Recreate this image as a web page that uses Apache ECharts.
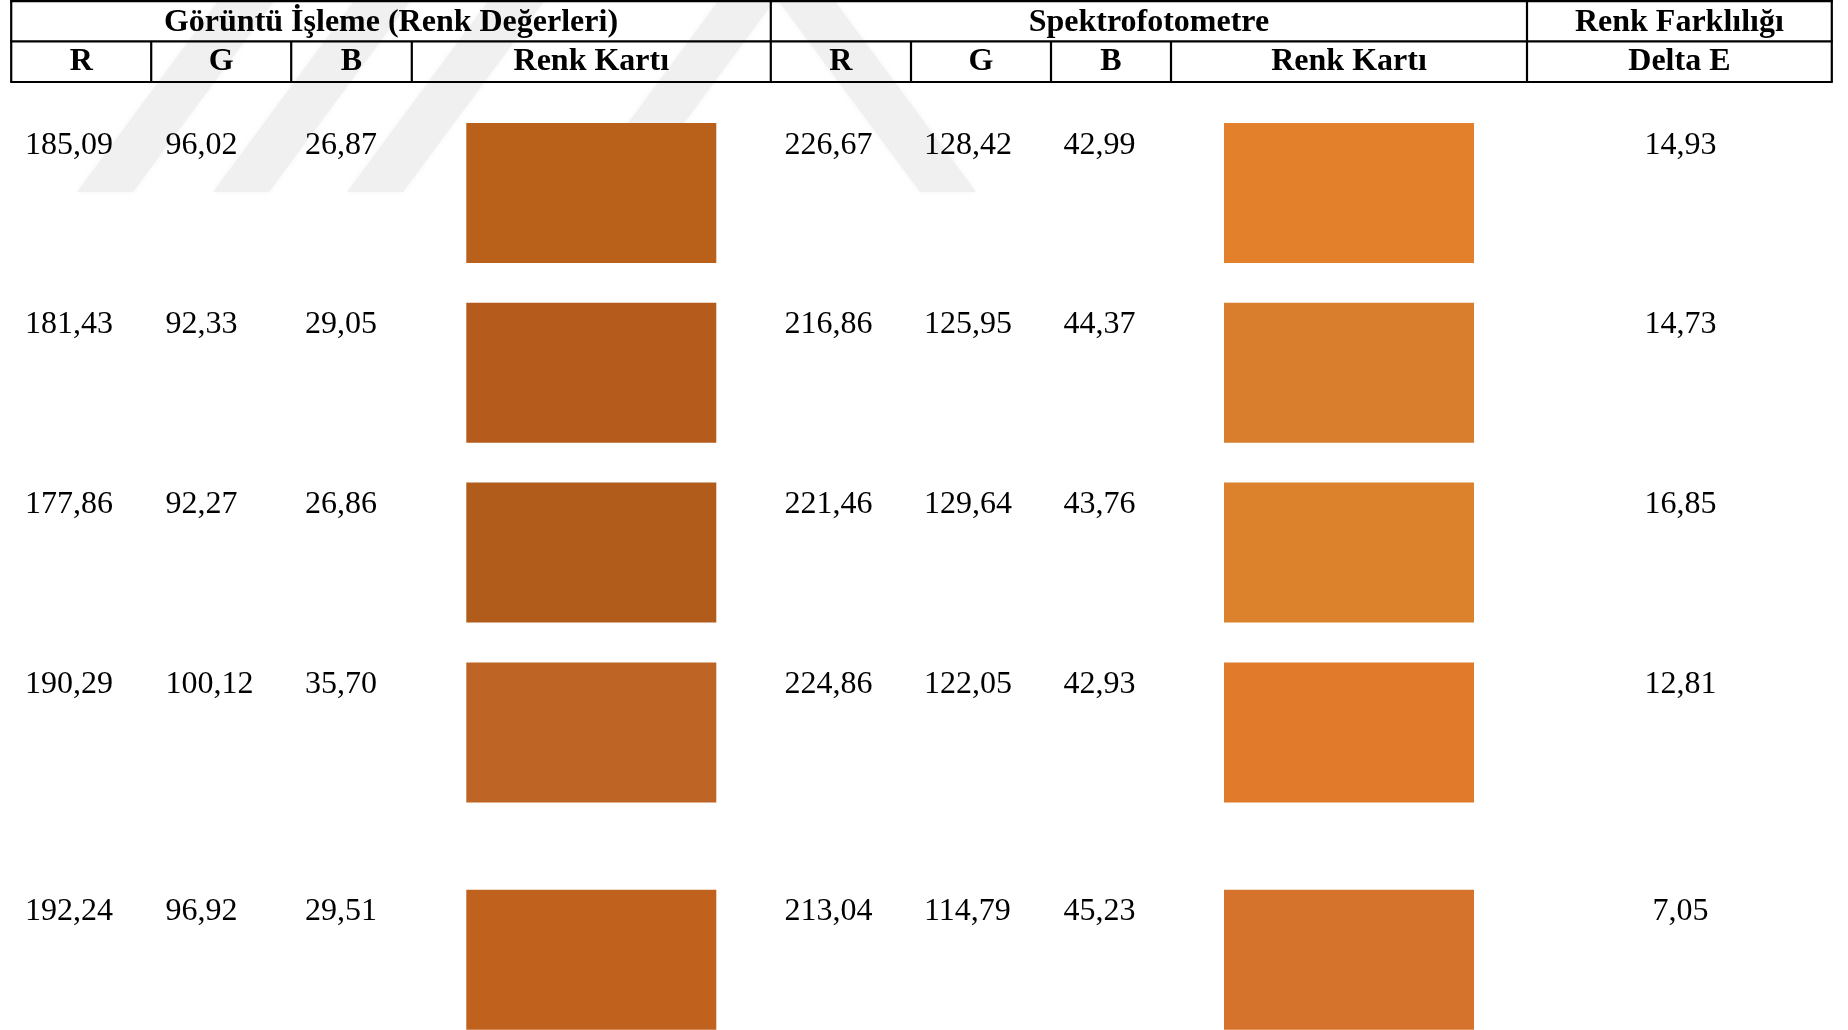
<!DOCTYPE html>
<html>
<head>
<meta charset="utf-8">
<script src="https://cdn.jsdelivr.net/npm/echarts@6/dist/echarts.min.js"></script>
<style>
html,body{margin:0;padding:0;background:#fff;}
#chart{width:1848px;height:1030px;}
</style>
</head>
<body>
<div id="chart"></div>
<script>
// ---------- DATA ----------
const rowLabels = ['1', '2', '3', '4', '5'];
const imgR = [185.09, 181.43, 177.86, 190.29, 192.24];
const imgG = [96.02, 92.33, 92.27, 100.12, 96.92];
const imgB = [26.87, 29.05, 26.86, 35.70, 29.51];
const specR = [226.67, 216.86, 221.46, 224.86, 213.04];
const specG = [128.42, 125.95, 129.64, 122.05, 114.79];
const specB = [42.99, 44.37, 43.76, 42.93, 45.23];
const deltaE = [14.93, 14.73, 16.85, 12.81, 7.05];
const groupHeaders = ['Görüntü İşleme (Renk Değerleri)', 'Spektrofotometre', 'Renk Farklılığı'];
const columnHeaders = ['R', 'G', 'B', 'Renk Kartı', 'R', 'G', 'B', 'Renk Kartı', 'Delta E'];

// ---------- LAYOUT / STYLE ----------
const W = 1848, H = 1030;
const colEdges = [11.2, 151.2, 291.2, 411.8, 770.8, 911, 1051, 1171, 1527, 1831.8];
const groupSpans = [[0, 4], [4, 8], [8, 9]];
const valueTextX = [25, 165.5, 305, 784.5, 924, 1063.5];
const headerRow1Y = 22.5, headerRow2Y = 62;
const lineYs = [1.2, 41.3, 82];
const swatchW = 250, swatchH = 140;
const textDy = -47.8;
const rowExtraOffset = [0, 0, 0, 0, 47.6];
const serif = '"Liberation Serif", "Times New Roman", serif';
const numFont = '32px ' + serif;
const headFont = 'bold 32px ' + serif;
const wmColor = '#f0f0f0';

function fmt(v) { return v.toFixed(2).replace('.', ','); }
function rgb(r, g, b) { return 'rgb(' + Math.round(r) + ',' + Math.round(g) + ',' + Math.round(b) + ')'; }

// ---------- GRAPHIC (table chrome + watermark) ----------
const graphics = [];
const wmFeet = [77, 213, 347, 577];
const wmBottom = 192, wmSlope = 0.74, wmWidth = 56;
wmFeet.forEach(a => {
  const rise = wmBottom + 20;
  graphics.push({type: 'polygon', z: 0, silent: true,
    shape: {points: [[a, wmBottom], [a + wmWidth, wmBottom], [a + wmWidth + rise * wmSlope, wmBottom - rise], [a + rise * wmSlope, wmBottom - rise]]},
    style: {fill: wmColor, shadowBlur: 6, shadowColor: 'rgba(0,0,0,0.04)'}});
});
(function(){
  const a = 920, rise = wmBottom + 20;
  graphics.push({type: 'polygon', z: 0, silent: true,
    shape: {points: [[a, wmBottom], [a + wmWidth, wmBottom], [a + wmWidth - rise * wmSlope, wmBottom - rise], [a - rise * wmSlope, wmBottom - rise]]},
    style: {fill: wmColor, shadowBlur: 6, shadowColor: 'rgba(0,0,0,0.04)'}});
})();

lineYs.forEach(y => {
  graphics.push({type: 'line', z: 10, shape: {x1: colEdges[0] - 1, y1: y, x2: colEdges[colEdges.length - 1] + 1, y2: y},
    style: {stroke: '#000', lineWidth: 2.2}});
});
const groupEdgeIdx = [0, 4, 8, 9];
colEdges.forEach((x, k) => {
  const full = groupEdgeIdx.indexOf(k) >= 0;
  graphics.push({type: 'line', z: 10, shape: {x1: x, y1: full ? 0 : lineYs[1], x2: x, y2: lineYs[2]},
    style: {stroke: '#000', lineWidth: 2.2}});
});
groupHeaders.forEach((t, g) => {
  const cx = (colEdges[groupSpans[g][0]] + colEdges[groupSpans[g][1]]) / 2;
  graphics.push({type: 'text', z: 11, style: {x: cx, y: headerRow1Y, text: t, font: headFont, fill: '#000', align: 'center', verticalAlign: 'middle'}});
});
columnHeaders.forEach((t, k) => {
  const cx = (colEdges[k] + colEdges[k + 1]) / 2;
  graphics.push({type: 'text', z: 11, style: {x: cx, y: headerRow2Y, text: t, font: headFont, fill: '#000', align: 'center', verticalAlign: 'middle'}});
});

// ---------- CHART ----------
const chart = echarts.init(document.getElementById('chart'), null, {renderer: 'canvas'});
chart.setOption({
  animation: false,
  backgroundColor: '#ffffff',
  grid: {left: 0, width: W, top: 103.1, height: 899},
  xAxis: {type: 'value', min: 0, max: W, show: false},
  yAxis: {type: 'category', data: rowLabels, inverse: true, show: false},
  graphic: {elements: graphics},
  series: [{
    type: 'custom',
    coordinateSystem: 'cartesian2d',
    data: rowLabels.map((r, i) => [0, i]),
    encode: {x: 0, y: 1},
    z: 5,
    renderItem: function (params, api) {
      const i = params.dataIndex;
      const base = api.coord([0, i]);
      const cy = base[1] + rowExtraOffset[i];
      const children = [];
      const vals = [imgR[i], imgG[i], imgB[i], specR[i], specG[i], specB[i]];
      vals.forEach((v, k) => {
        const px = api.coord([valueTextX[k], i])[0];
        children.push({type: 'text', style: {x: px, y: cy + textDy, text: fmt(v), font: numFont, fill: '#000', align: 'left', verticalAlign: 'middle'}});
      });
      const dx = api.coord([(colEdges[8] + colEdges[9]) / 2 + 1, i])[0];
      children.push({type: 'text', style: {x: dx, y: cy + textDy, text: fmt(deltaE[i]), font: numFont, fill: '#000', align: 'center', verticalAlign: 'middle'}});
      const c1 = api.coord([(colEdges[3] + colEdges[4]) / 2, i])[0];
      const c2 = api.coord([(colEdges[7] + colEdges[8]) / 2, i])[0];
      children.push({type: 'rect', shape: {x: c1 - swatchW / 2, y: cy - swatchH / 2, width: swatchW, height: swatchH}, style: {fill: rgb(imgR[i], imgG[i], imgB[i])}});
      children.push({type: 'rect', shape: {x: c2 - swatchW / 2, y: cy - swatchH / 2, width: swatchW, height: swatchH}, style: {fill: rgb(specR[i], specG[i], specB[i])}});
      return {type: 'group', children: children};
    }
  }]
});
</script>
</body>
</html>
